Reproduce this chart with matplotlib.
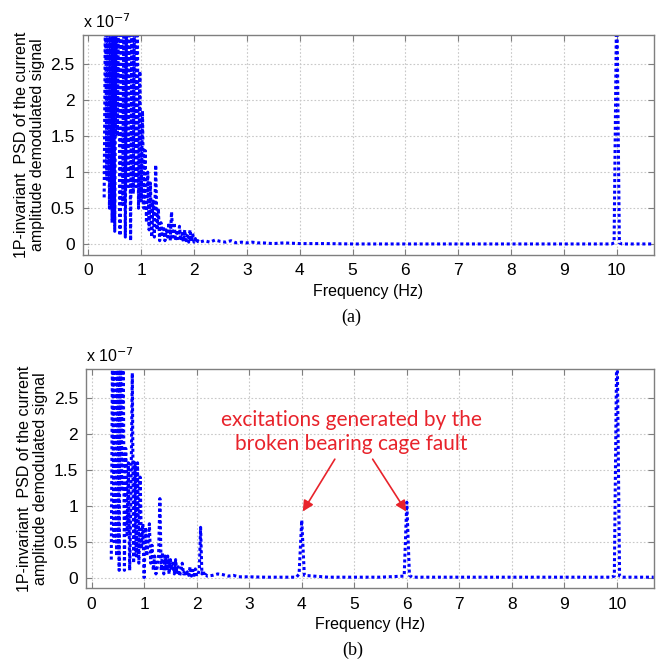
import numpy as np
import matplotlib
matplotlib.use("Agg")
import matplotlib.pyplot as plt

plt.rcParams['font.family'] = ['Liberation Sans', 'DejaVu Sans']

# ---------------- data (PSD values in units of 1e-7) ----------------
# Panel (a): healthy
freq_a_low = np.round(np.arange(0.300, 2.1001, 0.025), 3)
psd_a_low = [0.65, 3.5, 0.9, 3.5, 0.5, 3.5, 0.3, 3.5, 0.18, 3.5,
             1.5, 3.5, 0.12, 3.5, 0.55, 3.5, 0.1, 3.5, 0.8, 3.5,
             0.05, 3.5, 0.7, 3.5, 0.8, 3.5, 0.5, 2.4, 0.6, 1.85,
             0.5, 1.3, 0.3, 1.0, 0.2, 0.85, 0.1, 0.6, 0.1, 1.1,
             0.2, 0.5, 0.05, 0.3, 0.1, 0.25, 0.05, 0.2, 0.1, 0.3,
             0.05, 0.45, 0.1, 0.3, 0.05, 0.2, 0.08, 0.25, 0.05, 0.15,
             0.04, 0.2, 0.05, 0.12, 0.03, 0.2, 0.04, 0.15, 0.03, 0.08,
             0.02, 0.05, 0.03]
freq_a_tail = [2.2, 2.3, 2.4, 2.5, 2.6, 2.7, 2.8, 2.9, 3.0, 3.1, 3.2, 3.3,
               3.5, 3.7, 4.0, 4.5, 5.0, 6.0, 7.0, 8.0, 9.0, 9.9, 9.95,
               10.0, 10.05, 10.1, 10.4, 10.7]
psd_a_tail = [0.05, 0.03, 0.06, 0.04, 0.03, 0.05, 0.02, 0.03, 0.02, 0.03,
              0.02, 0.02, 0.01, 0.02, 0.01, 0.01, 0.005, 0.005, 0.005, 0.005,
              0.005, 0.005, 0.02, 3.5, 0.02, 0.005, 0.005, 0.005]

# Panel (b): broken bearing cage
freq_b_low = np.round(np.arange(0.375, 2.2001, 0.025), 3)
psd_b_low = [0.25, 3.5, 0.5, 3.5, 0.3, 3.5, 0.1, 3.5, 1.2, 3.5,
             0.1, 1.8, 0.6, 1.6, 0.1, 1.2, 2.85, 0.2, 1.6, 0.3,
             1.6, 0.2, 1.4, 0.4, 0.75, 0.0, 0.7, 0.3, 0.5, 0.75,
             0.2, 0.45, 0.1, 0.3, 0.05, 0.15, 0.3, 1.1, 0.1, 0.35,
             0.05, 0.3, 0.1, 0.3, 0.05, 0.25, 0.1, 0.2, 0.05, 0.25,
             0.05, 0.15, 0.02, 0.1, 0.2, 0.05, 0.1, 0.02, 0.08, 0.03,
             0.15, 0.02, 0.1, 0.03, 0.12, 0.02, 0.05, 0.1, 0.7, 0.05,
             0.1, 0.02, 0.04, 0.02]
freq_b_tail = [2.3, 2.4, 2.5, 2.6, 2.7, 2.8, 3.0, 3.3, 3.6, 3.9, 3.95, 4.0,
               4.05, 4.5, 5.0, 5.5, 5.95, 6.0, 6.05, 6.1, 7.0, 8.0, 9.0,
               9.9, 9.95, 10.0, 10.05, 10.1, 10.4, 10.7]
psd_b_tail = [0.03, 0.05, 0.04, 0.02, 0.03, 0.01, 0.01, 0.005, 0.005, 0.005,
              0.05, 0.8, 0.03, 0.005, 0.005, 0.005, 0.02, 1.05, 0.03, 0.005,
              0.005, 0.005, 0.005, 0.005, 0.02, 3.5, 0.02, 0.005, 0.005, 0.005]

xticks = list(range(0, 11))
yticks = [0, 0.5, 1, 1.5, 2, 2.5]
ytick_labels = ['0', '0.5', '1', '1.5', '2', '2.5']

ylabel = "1P-invariant  PSD of the current\namplitude demodulated signal"
annot_text = "excitations generated by the\nbroken bearing cage fault"

# ---------------- figure ----------------
fig = plt.figure(figsize=(6.59, 6.61), dpi=100)

positions = [[0.126, 0.614, 0.866, 0.333], [0.131, 0.110, 0.861, 0.331]]
datasets = [(freq_a_low, psd_a_low, freq_a_tail, psd_a_tail),
            (freq_b_low, psd_b_low, freq_b_tail, psd_b_tail)]
panel_labels = ['(a)', '(b)']

axes = []
for pos, (fl, pl, ft, pt), plabel in zip(positions, datasets, panel_labels):
    ax = fig.add_axes(pos)
    x = np.concatenate([fl, ft])
    y = np.concatenate([pl, pt])
    ax.plot(x, y, color='#0000ff', linestyle=(0, (1.0, 0.9)), linewidth=2.2,
            solid_capstyle='butt', dash_capstyle='butt')
    ax.set_xlim(-0.1, 10.7)
    ax.set_ylim(-0.15, 2.9)
    ax.set_xticks(xticks)
    ax.set_yticks(yticks)
    ax.set_yticklabels(ytick_labels)
    ax.grid(True, color='#c8c8c8', linestyle=(0, (1.5, 1.8)), linewidth=0.8)
    ax.tick_params(direction='in', top=True, right=True, labelsize=12.5,
                   length=4, color='#7f7f7f', pad=6)
    for s in ax.spines.values():
        s.set_color('#7f7f7f')
        s.set_linewidth(1.0)
    ax.set_xlabel('Frequency (Hz)', fontsize=11.5, labelpad=4)
    ax.set_ylabel(ylabel, fontsize=11.5, labelpad=4, linespacing=1.05)
    ax.text(0.0, 1.02, r'x 10$^{-7}$', transform=ax.transAxes, fontsize=11.5,
            ha='left', va='bottom')
    ax.text(0.47, -0.245, plabel, transform=ax.transAxes, fontsize=13,
            family='Liberation Serif', ha='center', va='top')
    axes.append(ax)

axb = axes[1]
axb.text(4.95, 2.03, annot_text, color='#e8232b', fontsize=15,
         family=['Lato', 'DejaVu Sans'], ha='center', va='center', linespacing=1.2)
axb.annotate('', xy=(4.02, 0.92), xytext=(4.63, 1.65),
             arrowprops=dict(arrowstyle='-|>', color='#e8232b', lw=1.2,
                             mutation_scale=16, shrinkA=0, shrinkB=0))
axb.annotate('', xy=(5.99, 0.92), xytext=(5.35, 1.65),
             arrowprops=dict(arrowstyle='-|>', color='#e8232b', lw=1.2,
                             mutation_scale=16, shrinkA=0, shrinkB=0))

fig.savefig('out.png', dpi=100)
